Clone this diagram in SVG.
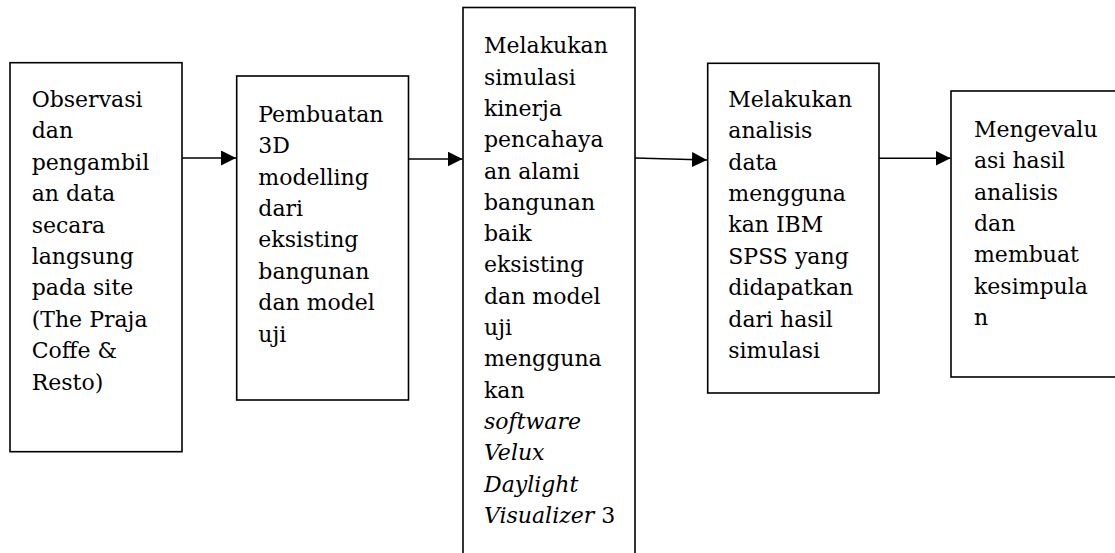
<svg xmlns="http://www.w3.org/2000/svg" width="1115" height="553" viewBox="0 0 1115 553">
<style>
.box{fill:#fff;stroke:#000;stroke-width:1.6}
.t{font-family:"DejaVu Serif","Liberation Serif",serif;font-size:22px;fill:#000}
.i{font-style:italic}
.c{stroke:#000;stroke-width:1.6;fill:none}
</style>
<defs>
<marker id="ah" markerWidth="15" markerHeight="15" refX="15" refY="7.5" orient="auto" markerUnits="userSpaceOnUse">
<path d="M0,0 L15,7.5 L0,15 Z" fill="#000"/>
</marker>
</defs>
<rect width="1115" height="553" fill="#fff"/>
<g id="connectors">
<line class="c" x1="182" y1="158" x2="236" y2="158" marker-end="url(#ah)"/>
<line class="c" x1="408.5" y1="159" x2="462.5" y2="159" marker-end="url(#ah)"/>
<line class="c" x1="635" y1="158" x2="707" y2="160" marker-end="url(#ah)"/>
<line class="c" x1="879" y1="158.3" x2="950.5" y2="158.3" marker-end="url(#ah)"/>
</g>
<g id="node1">
<rect class="box" x="10" y="62.7" width="172" height="389"/>
<text class="t" x="31.7" y="107">
<tspan x="31.7" y="107">Observasi</tspan>
<tspan x="31.7" y="138.4">dan</tspan>
<tspan x="31.7" y="169.8">pengambil</tspan>
<tspan x="31.7" y="201.2">an data</tspan>
<tspan x="31.7" y="232.6">secara</tspan>
<tspan x="31.7" y="264">langsung</tspan>
<tspan x="31.7" y="295.4">pada site</tspan>
<tspan x="31.7" y="326.8">(The Praja</tspan>
<tspan x="31.7" y="358.2">Coffe &amp;</tspan>
<tspan x="31.7" y="389.6">Resto)</tspan>
</text>
</g>
<g id="node2">
<rect class="box" x="236.7" y="76" width="171.8" height="324"/>
<text class="t">
<tspan x="258.3" y="121.7">Pembuatan</tspan>
<tspan x="258.3" y="153.1">3D</tspan>
<tspan x="258.3" y="184.5">modelling</tspan>
<tspan x="258.3" y="215.9">dari</tspan>
<tspan x="258.3" y="247.3">eksisting</tspan>
<tspan x="258.3" y="278.7">bangunan</tspan>
<tspan x="258.3" y="310.1">dan model</tspan>
<tspan x="258.3" y="341.5">uji</tspan>
</text>
</g>
<g id="node3">
<rect class="box" x="463" y="7.5" width="172" height="560"/>
<text class="t">
<tspan x="484" y="53.3">Melakukan</tspan>
<tspan x="484" y="84.6">simulasi</tspan>
<tspan x="484" y="115.9">kinerja</tspan>
<tspan x="484" y="147.2">pencahaya</tspan>
<tspan x="484" y="178.5">an alami</tspan>
<tspan x="484" y="209.8">bangunan</tspan>
<tspan x="484" y="241.1">baik</tspan>
<tspan x="484" y="272.4">eksisting</tspan>
<tspan x="484" y="303.7">dan model</tspan>
<tspan x="484" y="335">uji</tspan>
<tspan x="484" y="366.3">mengguna</tspan>
<tspan x="484" y="397.6">kan</tspan>
<tspan x="484" y="428.9" class="i">software</tspan>
<tspan x="484" y="460.2" class="i">Velux</tspan>
<tspan x="484" y="491.5" class="i">Daylight</tspan>
<tspan x="484" y="522.8"><tspan class="i">Visualizer</tspan> 3</tspan>
</text>
</g>
<g id="node4">
<rect class="box" x="707.7" y="63.3" width="171.3" height="329.7"/>
<text class="t">
<tspan x="728.3" y="106.7">Melakukan</tspan>
<tspan x="728.3" y="138.1">analisis</tspan>
<tspan x="728.3" y="169.5">data</tspan>
<tspan x="728.3" y="200.9">mengguna</tspan>
<tspan x="728.3" y="232.3">kan IBM</tspan>
<tspan x="728.3" y="263.7">SPSS yang</tspan>
<tspan x="728.3" y="295.1">didapatkan</tspan>
<tspan x="728.3" y="326.5">dari hasil</tspan>
<tspan x="728.3" y="357.9">simulasi</tspan>
</text>
</g>
<g id="node5">
<rect class="box" x="951" y="91" width="180" height="286"/>
<text class="t">
<tspan x="974" y="136.7">Mengevalu</tspan>
<tspan x="974" y="168.1">asi hasil</tspan>
<tspan x="974" y="199.5">analisis</tspan>
<tspan x="974" y="230.9">dan</tspan>
<tspan x="974" y="262.3">membuat</tspan>
<tspan x="974" y="293.7">kesimpula</tspan>
<tspan x="974" y="325.1">n</tspan>
</text>
</g>
</svg>
